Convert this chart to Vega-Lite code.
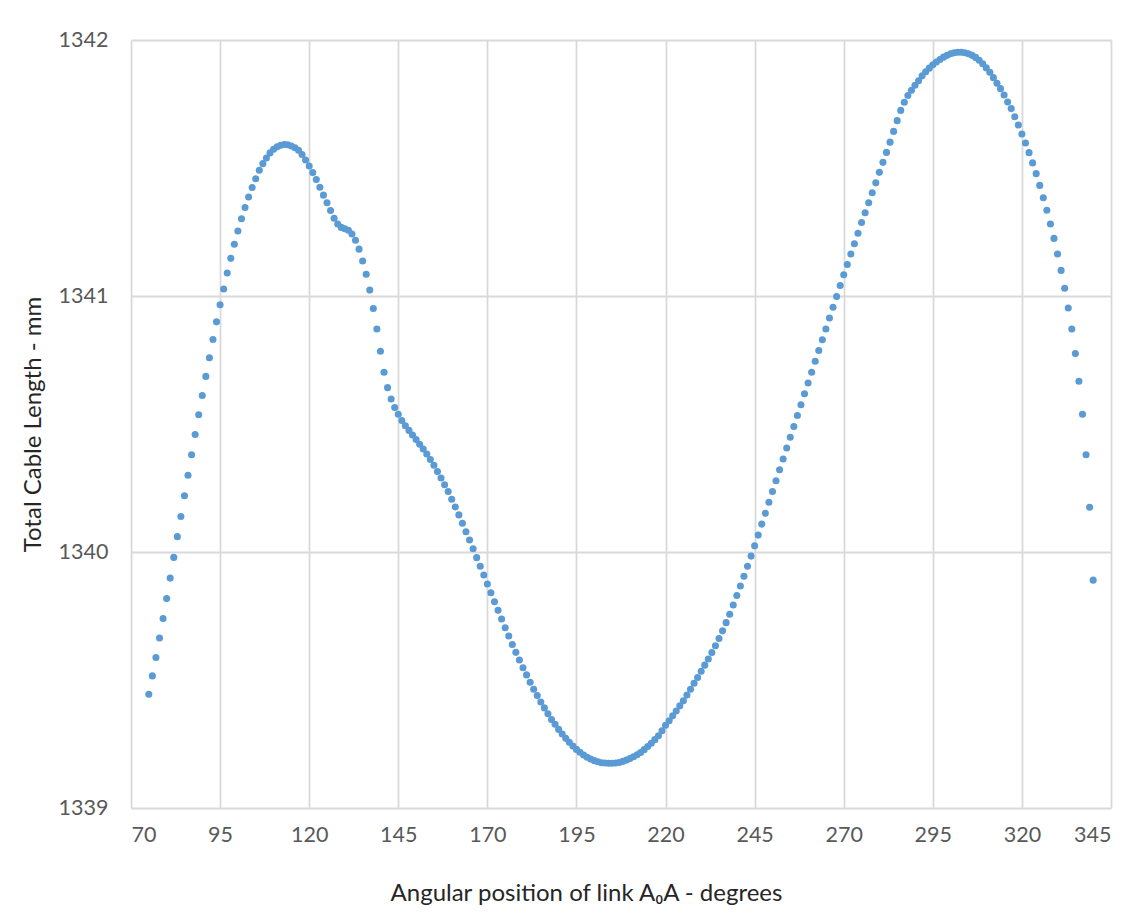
{
  "$schema": "https://vega.github.io/schema/vega-lite/v6.json",
  "width": 980,
  "height": 768,
  "autosize": {"type": "none"},
  "padding": {"left": 131, "top": 40, "right": 29, "bottom": 110},
  "background": "white",
  "config": {
    "view": {"stroke": null},
    "axis": {
      "labelFont": "Lato",
      "titleFont": "Lato",
      "labelColor": "#595959",
      "titleColor": "#262626",
      "gridColor": "#d9d9d9",
      "gridWidth": 1.8,
      "domain": false,
      "ticks": false
    }
  },
  "data": {
    "values": [
      {"a":75,"l":1339.444},{"a":76,"l":1339.516},{"a":77,"l":1339.588},{"a":78,"l":1339.664},{"a":79,"l":1339.740},
      {"a":80,"l":1339.818},{"a":81,"l":1339.898},{"a":82,"l":1339.979},{"a":83,"l":1340.060},{"a":84,"l":1340.139},
      {"a":85,"l":1340.220},{"a":86,"l":1340.300},{"a":87,"l":1340.380},{"a":88,"l":1340.459},{"a":89,"l":1340.536},
      {"a":90,"l":1340.611},{"a":91,"l":1340.686},{"a":92,"l":1340.759},{"a":93,"l":1340.830},{"a":94,"l":1340.899},
      {"a":95,"l":1340.966},{"a":96,"l":1341.027},{"a":97,"l":1341.090},{"a":98,"l":1341.147},{"a":99,"l":1341.202},
      {"a":100,"l":1341.254},{"a":101,"l":1341.302},{"a":102,"l":1341.346},{"a":103,"l":1341.387},{"a":104,"l":1341.424},
      {"a":105,"l":1341.458},{"a":106,"l":1341.491},{"a":107,"l":1341.517},{"a":108,"l":1341.539},{"a":109,"l":1341.559},
      {"a":110,"l":1341.573},{"a":111,"l":1341.583},{"a":112,"l":1341.589},{"a":113,"l":1341.592},{"a":114,"l":1341.591},
      {"a":115,"l":1341.586},{"a":116,"l":1341.579},{"a":117,"l":1341.569},{"a":118,"l":1341.553},{"a":119,"l":1341.531},
      {"a":120,"l":1341.508},{"a":121,"l":1341.482},{"a":122,"l":1341.455},{"a":123,"l":1341.425},{"a":124,"l":1341.394},
      {"a":125,"l":1341.364},{"a":126,"l":1341.334},{"a":127,"l":1341.304},{"a":128,"l":1341.281},{"a":129,"l":1341.268},
      {"a":130,"l":1341.263},{"a":131,"l":1341.257},{"a":132,"l":1341.242},{"a":133,"l":1341.218},{"a":134,"l":1341.183},
      {"a":135,"l":1341.137},{"a":136,"l":1341.085},{"a":137,"l":1341.023},{"a":138,"l":1340.951},{"a":139,"l":1340.871},
      {"a":140,"l":1340.784},{"a":141,"l":1340.702},{"a":142,"l":1340.642},{"a":143,"l":1340.598},{"a":144,"l":1340.564},
      {"a":145,"l":1340.538},{"a":146,"l":1340.514},{"a":147,"l":1340.493},{"a":148,"l":1340.475},{"a":149,"l":1340.457},
      {"a":150,"l":1340.439},{"a":151,"l":1340.421},{"a":152,"l":1340.402},{"a":153,"l":1340.383},{"a":154,"l":1340.361},
      {"a":155,"l":1340.339},{"a":156,"l":1340.314},{"a":157,"l":1340.289},{"a":158,"l":1340.263},{"a":159,"l":1340.236},
      {"a":160,"l":1340.206},{"a":161,"l":1340.176},{"a":162,"l":1340.145},{"a":163,"l":1340.112},{"a":164,"l":1340.079},
      {"a":165,"l":1340.047},{"a":166,"l":1340.013},{"a":167,"l":1339.978},{"a":168,"l":1339.944},{"a":169,"l":1339.910},
      {"a":170,"l":1339.875},{"a":171,"l":1339.841},{"a":172,"l":1339.806},{"a":173,"l":1339.772},{"a":174,"l":1339.738},
      {"a":175,"l":1339.704},{"a":176,"l":1339.672},{"a":177,"l":1339.639},{"a":178,"l":1339.608},{"a":179,"l":1339.578},
      {"a":180,"l":1339.548},{"a":181,"l":1339.520},{"a":182,"l":1339.491},{"a":183,"l":1339.464},{"a":184,"l":1339.439},
      {"a":185,"l":1339.414},{"a":186,"l":1339.391},{"a":187,"l":1339.368},{"a":188,"l":1339.346},{"a":189,"l":1339.327},
      {"a":190,"l":1339.307},{"a":191,"l":1339.289},{"a":192,"l":1339.272},{"a":193,"l":1339.257},{"a":194,"l":1339.242},
      {"a":195,"l":1339.229},{"a":196,"l":1339.218},{"a":197,"l":1339.207},{"a":198,"l":1339.198},{"a":199,"l":1339.191},
      {"a":200,"l":1339.185},{"a":201,"l":1339.181},{"a":202,"l":1339.177},{"a":203,"l":1339.176},{"a":204,"l":1339.175},
      {"a":205,"l":1339.175},{"a":206,"l":1339.176},{"a":207,"l":1339.178},{"a":208,"l":1339.182},{"a":209,"l":1339.187},
      {"a":210,"l":1339.193},{"a":211,"l":1339.200},{"a":212,"l":1339.208},{"a":213,"l":1339.217},{"a":214,"l":1339.228},
      {"a":215,"l":1339.240},{"a":216,"l":1339.253},{"a":217,"l":1339.267},{"a":218,"l":1339.282},{"a":219,"l":1339.302},
      {"a":220,"l":1339.323},{"a":221,"l":1339.341},{"a":222,"l":1339.360},{"a":223,"l":1339.379},{"a":224,"l":1339.399},
      {"a":225,"l":1339.419},{"a":226,"l":1339.441},{"a":227,"l":1339.464},{"a":228,"l":1339.487},{"a":229,"l":1339.510},
      {"a":230,"l":1339.534},{"a":231,"l":1339.558},{"a":232,"l":1339.582},{"a":233,"l":1339.607},{"a":234,"l":1339.634},
      {"a":235,"l":1339.662},{"a":236,"l":1339.692},{"a":237,"l":1339.724},{"a":238,"l":1339.757},{"a":239,"l":1339.793},
      {"a":240,"l":1339.830},{"a":241,"l":1339.867},{"a":242,"l":1339.905},{"a":243,"l":1339.944},{"a":244,"l":1339.984},
      {"a":245,"l":1340.024},{"a":246,"l":1340.066},{"a":247,"l":1340.109},{"a":248,"l":1340.151},{"a":249,"l":1340.194},
      {"a":250,"l":1340.236},{"a":251,"l":1340.278},{"a":252,"l":1340.321},{"a":253,"l":1340.363},{"a":254,"l":1340.406},
      {"a":255,"l":1340.448},{"a":256,"l":1340.490},{"a":257,"l":1340.533},{"a":258,"l":1340.575},{"a":259,"l":1340.618},
      {"a":260,"l":1340.660},{"a":261,"l":1340.702},{"a":262,"l":1340.745},{"a":263,"l":1340.787},{"a":264,"l":1340.829},
      {"a":265,"l":1340.871},{"a":266,"l":1340.914},{"a":267,"l":1340.956},{"a":268,"l":1340.998},{"a":269,"l":1341.041},
      {"a":270,"l":1341.083},{"a":271,"l":1341.123},{"a":272,"l":1341.164},{"a":273,"l":1341.204},{"a":274,"l":1341.245},
      {"a":275,"l":1341.287},{"a":276,"l":1341.325},{"a":277,"l":1341.364},{"a":278,"l":1341.403},{"a":279,"l":1341.442},
      {"a":280,"l":1341.483},{"a":281,"l":1341.522},{"a":282,"l":1341.561},{"a":283,"l":1341.601},{"a":284,"l":1341.643},
      {"a":285,"l":1341.685},{"a":286,"l":1341.725},{"a":287,"l":1341.757},{"a":288,"l":1341.783},{"a":289,"l":1341.804},
      {"a":290,"l":1341.823},{"a":291,"l":1341.841},{"a":292,"l":1341.860},{"a":293,"l":1341.876},{"a":294,"l":1341.890},
      {"a":295,"l":1341.903},{"a":296,"l":1341.914},{"a":297,"l":1341.924},{"a":298,"l":1341.933},{"a":299,"l":1341.940},
      {"a":300,"l":1341.946},{"a":301,"l":1341.950},{"a":302,"l":1341.952},{"a":303,"l":1341.952},{"a":304,"l":1341.950},
      {"a":305,"l":1341.946},{"a":306,"l":1341.940},{"a":307,"l":1341.932},{"a":308,"l":1341.921},{"a":309,"l":1341.907},
      {"a":310,"l":1341.891},{"a":311,"l":1341.874},{"a":312,"l":1341.853},{"a":313,"l":1341.831},{"a":314,"l":1341.810},
      {"a":315,"l":1341.785},{"a":316,"l":1341.758},{"a":317,"l":1341.732},{"a":318,"l":1341.700},{"a":319,"l":1341.668},
      {"a":320,"l":1341.633},{"a":321,"l":1341.598},{"a":322,"l":1341.560},{"a":323,"l":1341.520},{"a":324,"l":1341.478},
      {"a":325,"l":1341.432},{"a":326,"l":1341.384},{"a":327,"l":1341.335},{"a":328,"l":1341.281},{"a":329,"l":1341.225},
      {"a":330,"l":1341.164},{"a":331,"l":1341.100},{"a":332,"l":1341.030},{"a":333,"l":1340.953},{"a":334,"l":1340.871},
      {"a":335,"l":1340.775},{"a":336,"l":1340.667},{"a":337,"l":1340.538},{"a":338,"l":1340.380},{"a":339,"l":1340.175},
      {"a":340,"l":1339.890}
    ]
  },
  "mark": {"type": "circle", "size": 50, "color": "#5B9BD5", "opacity": 1},
  "encoding": {
    "x": {
      "field": "a",
      "type": "quantitative",
      "scale": {"domain": [70, 345], "nice": false, "zero": false},
      "axis": {
        "values": [70, 95, 120, 145, 170, 195, 220, 245, 270, 295, 320, 345],
        "labelFontSize": 21.5,
        "labelPadding": 16,
        "title": "Angular position of link A₀A - degrees",
        "titleFontSize": 24,
        "titleFontWeight": "normal",
        "titleX": 455,
        "titleY": 85,
        "titleAlign": "center",
        "titleBaseline": "middle"
      }
    },
    "y": {
      "field": "l",
      "type": "quantitative",
      "scale": {"domain": [1339, 1342], "nice": false, "zero": false},
      "axis": {
        "values": [1339, 1340, 1341, 1342],
        "format": "d",
        "labelFontSize": 21.5,
        "labelPadding": 23,
        "title": "Total Cable Length - mm",
        "titleFontSize": 24,
        "titleFontWeight": "normal",
        "titleX": -98,
        "titleY": 384,
        "titleAngle": -90,
        "titleAlign": "center",
        "titleBaseline": "middle"
      }
    }
  }
}
